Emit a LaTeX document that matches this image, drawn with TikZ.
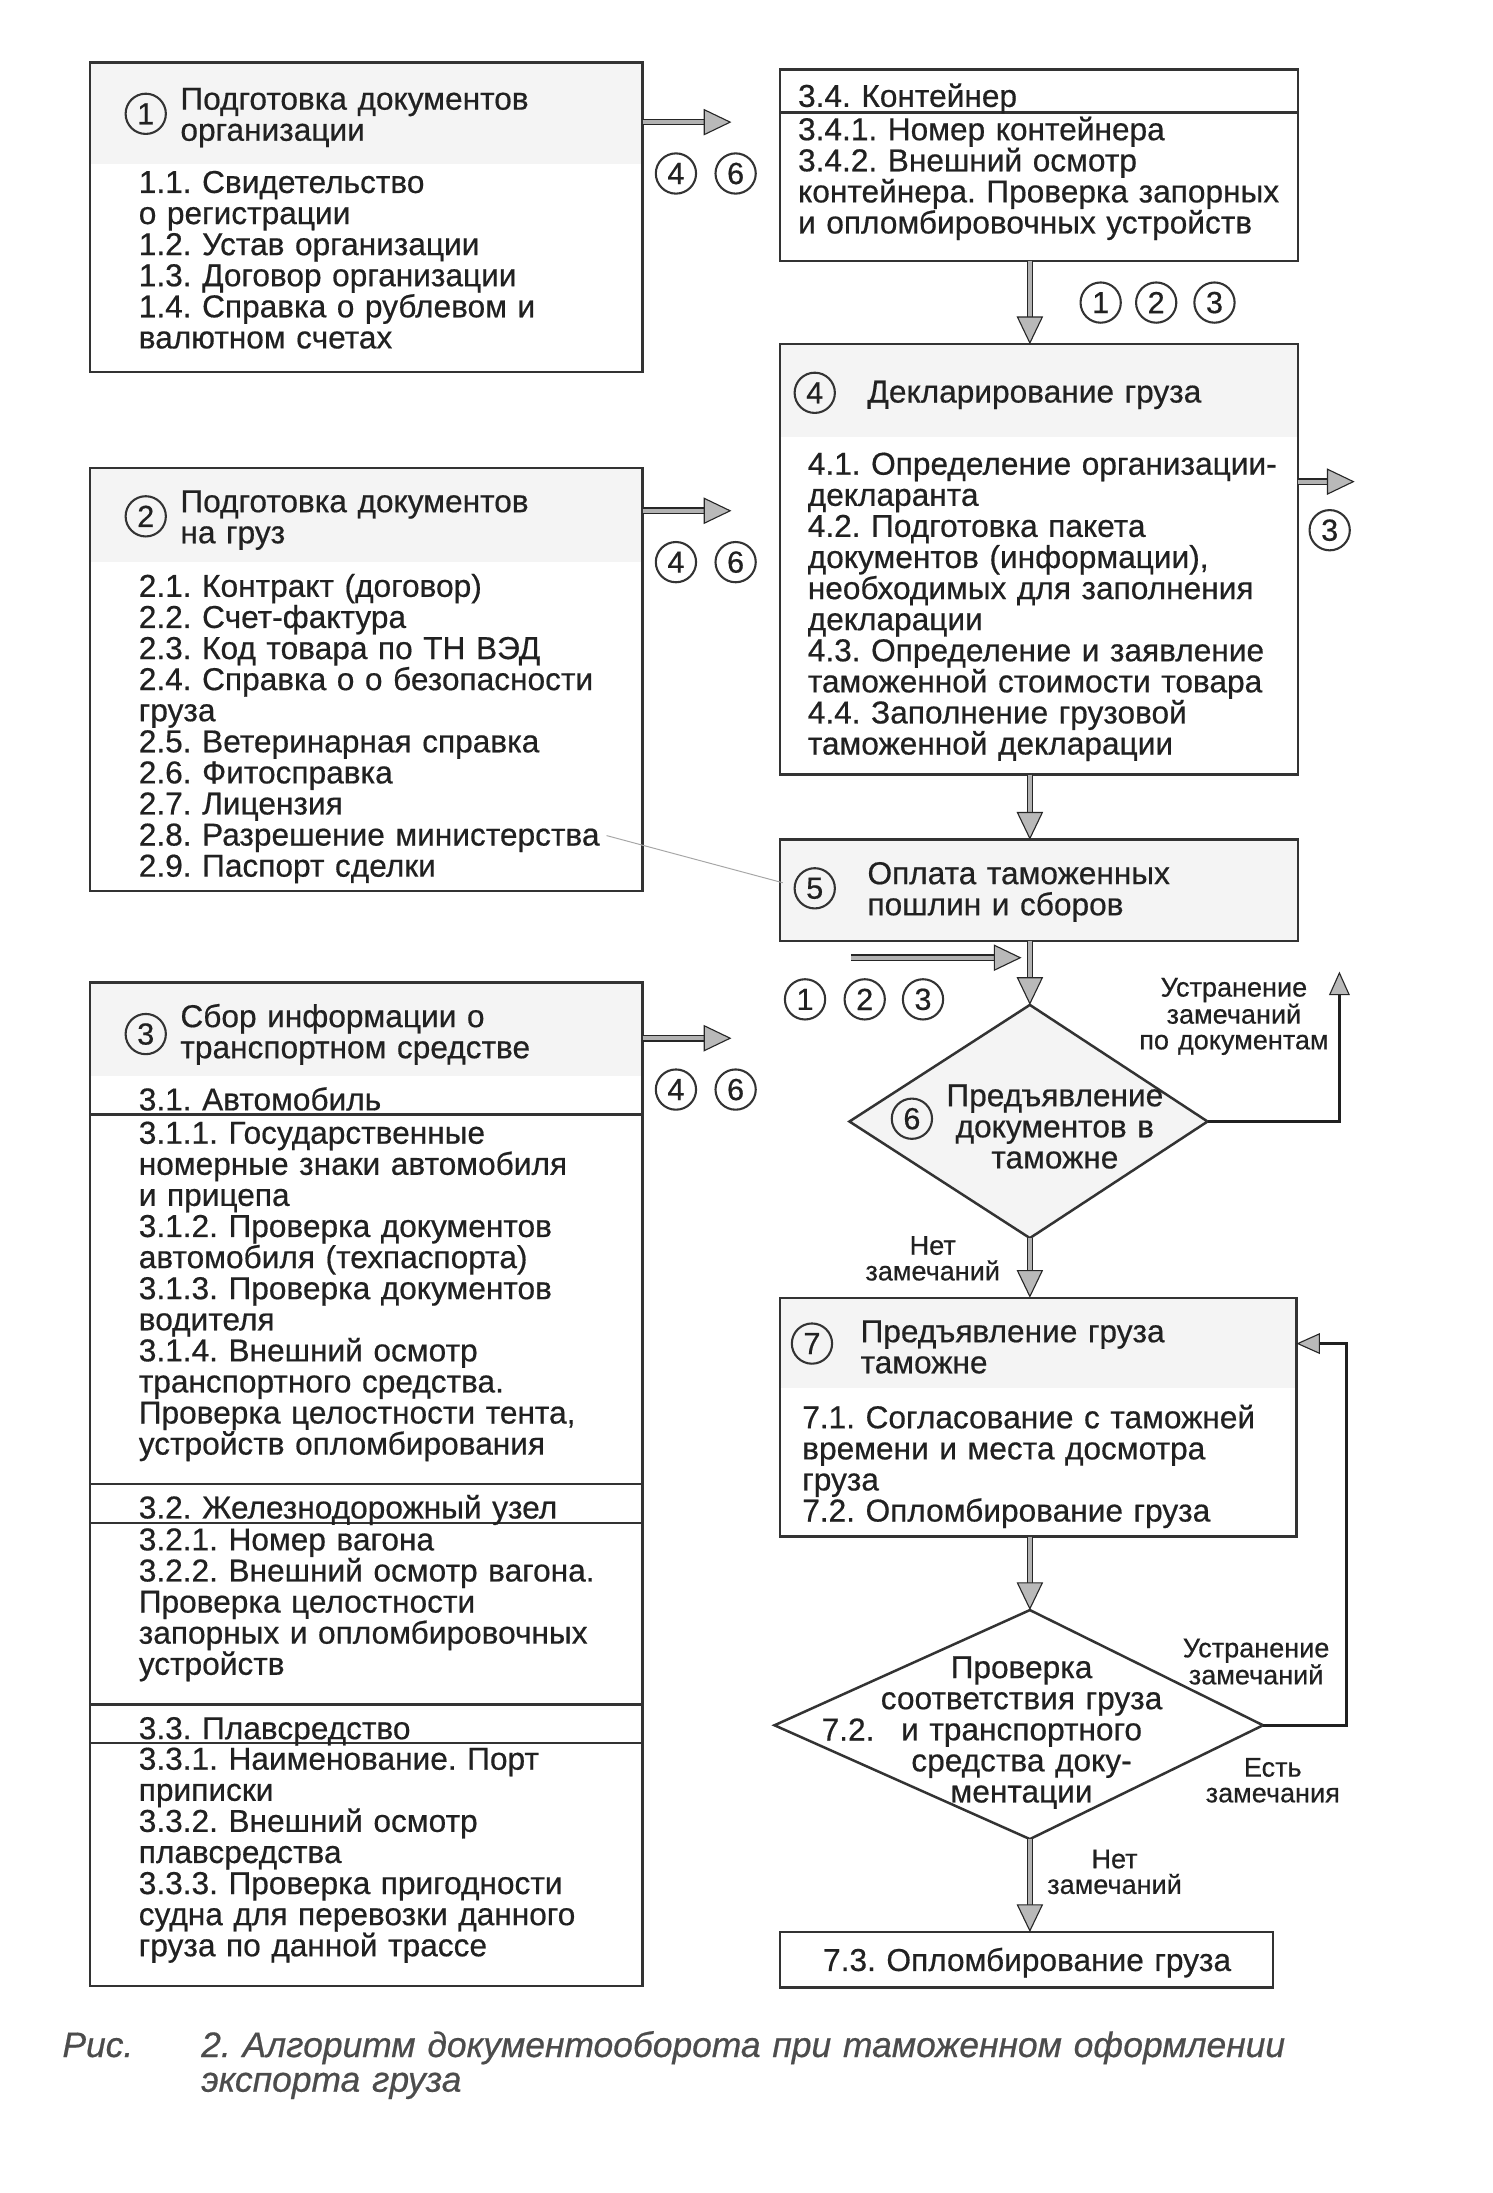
\documentclass[tikz,border=0pt]{standalone}
\usepackage{fontspec}
\setmainfont{Liberation Sans}[FakeBold=0.5]
\frenchspacing
\usetikzlibrary{arrows.meta}
\definecolor{ink}{gray}{0.13}
\definecolor{frame}{gray}{0.2}
\definecolor{hdrgray}{gray}{0.955}
\definecolor{capink}{gray}{0.3}
\begin{document}
\begin{tikzpicture}[x=1pt,y=-1pt,
  every node/.style={inner sep=0pt,outer sep=0pt,text=ink},
  box/.style={draw=frame,line width=1.8pt,inner sep=0pt,outer sep=0pt,anchor=north west},
  sepline/.style={draw=frame,line width=1.6pt},
  body/.style={font=\fontsize{22.8}{22.4}\selectfont,align=left,text width=#1,anchor=base west},
  body/.default=440pt,
  ctext/.style={font=\fontsize{22.8}{22.4}\selectfont,align=center,text width=#1,anchor=base},
  ctext/.default=240pt,
  lbl/.style={font=\fontsize{19.5}{18.5}\selectfont,align=center,text width=170pt,anchor=base},
  num/.style={circle,draw=frame,line width=1.5pt,minimum size=29pt,font=\fontsize{22}{22}\selectfont},
  garrow/.style={draw=gray!30!black,line width=1pt,double=gray!60,double distance=2.8pt,
     -{Triangle[length=20pt,width=19pt,line width=0.8pt,color=gray!30!black,fill=gray!55]}},
  fback/.style={draw=gray!25!black,line width=2.3pt,
     -{Triangle[length=17pt,width=15pt,line width=0.8pt,color=gray!30!black,fill=gray!55]}},
  capt/.style={font=\fontsize{25.5}{25}\selectfont\itshape,text=capink,align=left,text width=#1,anchor=base west},
  capt/.default=950pt,
]
\useasboundingbox (0,0) rectangle (1075,1580);
\fill[white] (0,0) rectangle (1075,1580);

% light header shading
\fill[hdrgray] (65,45) rectangle (463,118);
\fill[hdrgray] (65,337) rectangle (463,405);
\fill[hdrgray] (65,708) rectangle (463,775);
\fill[hdrgray] (562,248) rectangle (935,315);
\fill[hdrgray] (562,605) rectangle (935,678);
\fill[hdrgray] (562,935) rectangle (934,1000);

% ---------- boxes ----------
\node[box,minimum width=398pt,minimum height=223pt] (b1) at (65,45) {};
\node[box,minimum width=398pt,minimum height=305pt] (b2) at (65,337) {};
\node[box,minimum width=398pt,minimum height=723pt] (b3) at (65,708) {};
\node[box,minimum width=373pt,minimum height=138pt] (b34) at (562,50) {};
\node[box,minimum width=373pt,minimum height=310pt] (b4) at (562,248) {};
\node[box,minimum width=373pt,minimum height=73pt] (b5) at (562,605) {};
\node[box,minimum width=372pt,minimum height=172pt] (b7) at (562,935) {};
\node[box,minimum width=355pt,minimum height=40pt] (b73) at (562,1392) {};

% separators
\draw[sepline] (b34.west |- 0,81) -- (b34.east |- 0,81);
\draw[sepline] (b3.west |- 0,803) -- (b3.east |- 0,803);
\draw[sepline] (b3.west |- 0,1069) -- (b3.east |- 0,1069);
\draw[sepline] (b3.west |- 0,1097) -- (b3.east |- 0,1097);
\draw[sepline] (b3.west |- 0,1228) -- (b3.east |- 0,1228);
\draw[sepline] (b3.west |- 0,1256) -- (b3.east |- 0,1256);

% diamonds
\coordinate (d6t) at (742,724);
\coordinate (d6r) at (870,808);
\coordinate (d6b) at (742,892);
\coordinate (d6l) at (612,808);
\draw[box,fill=hdrgray] (d6t) -- (d6r) -- (d6b) -- (d6l) -- cycle;
\coordinate (d72t) at (742,1160);
\coordinate (d72r) at (910,1243);
\coordinate (d72b) at (742,1325);
\coordinate (d72l) at (558,1243);
\draw[box] (d72t) -- (d72r) -- (d72b) -- (d72l) -- cycle;

% ---------- box 1 ----------
\node[num] (c1) at (105,82) {1};
\node[body] (t1h) at (130,79) {Подготовка документов\\организации};
\node[body] (t1) at (100,139) {1.1. Свидетельство\\о регистрации\\1.2. Устав организации\\1.3. Договор организации\\1.4. Справка о рублевом и\\валютном счетах};

% ---------- box 2 ----------
\node[num] (c2) at (105,372) {2};
\node[body] (t2h) at (130,369) {Подготовка документов\\на груз};
\node[body] (t2) at (100,430) {2.1. Контракт (договор)\\2.2. Счет-фактура\\2.3. Код товара по ТН ВЭД\\2.4. Справка о о безопасности\\груза\\2.5. Ветеринарная справка\\2.6. Фитосправка\\2.7. Лицензия\\2.8. Разрешение министерства\\2.9. Паспорт сделки};

% ---------- box 3 ----------
\node[num] (c3) at (105,745) {3};
\node[body] (t3h) at (130,740) {Сбор информации о\\транспортном средстве};
\node[body] (t31h) at (100,800) {3.1. Автомобиль};
\node[body] (t31) at (100,824) {3.1.1. Государственные\\номерные знаки автомобиля\\и прицепа\\3.1.2. Проверка документов\\автомобиля (техпаспорта)\\3.1.3. Проверка документов\\водителя\\3.1.4. Внешний осмотр\\транспортного средства.\\Проверка целостности тента,\\устройств опломбирования};
\node[body] (t32h) at (100,1094) {3.2. Железнодорожный узел};
\node[body] (t32) at (100,1117) {3.2.1. Номер вагона\\3.2.2. Внешний осмотр вагона.\\Проверка целостности\\запорных и опломбировочных\\устройств};
\node[body] (t33h) at (100,1253) {3.3. Плавсредство};
\node[body] (t33) at (100,1275) {3.3.1. Наименование. Порт\\приписки\\3.3.2. Внешний осмотр\\плавсредства\\3.3.3. Проверка пригодности\\судна для перевозки данного\\груза по данной трассе};

% ---------- box 3.4 ----------
\node[body] (t34h) at (575,77) {3.4. Контейнер};
\node[body] (t34) at (575,101) {3.4.1. Номер контейнера\\3.4.2. Внешний осмотр\\контейнера. Проверка запорных\\и опломбировочных устройств};

% ---------- box 4 ----------
\node[num] (c4) at (587,283) {4};
\node[body] (t4h) at (625,290) {Декларирование груза};
\node[body] (t4) at (582,342) {4.1. Определение организации-\\декларанта\\4.2. Подготовка пакета\\документов (информации),\\необходимых для заполнения\\декларации\\4.3. Определение и заявление\\таможенной стоимости товара\\4.4. Заполнение грузовой\\таможенной декларации};

% ---------- box 5 ----------
\node[num] (c5) at (587,640) {5};
\node[body] (t5) at (625,637) {Оплата таможенных\\пошлин и сборов};

% ---------- diamond 6 ----------
\node[num] (c6) at (657,806) {6};
\node[ctext] (t6) at (760,797) {Предъявление\\документов в\\таможне};

% ---------- box 7 ----------
\node[num] (c7) at (585,968) {7};
\node[body] (t7h) at (620,967) {Предъявление груза\\таможне};
\node[body] (t7) at (578,1029) {7.1. Согласование с таможней\\времени и места досмотра\\груза\\7.2. Опломбирование груза};

% ---------- diamond 7.2 ----------
\node[ctext] (t72) at (736,1209) {Проверка\\соответствия груза\\и транспортного\\средства доку-\\ментации};
\node[ctext=60pt] (n72) at (611,1254) {7.2.};

% ---------- box 7.3 ----------
\node[ctext=340pt] (t73) at (740,1420) {7.3. Опломбирование груза};

% ---------- reference circles ----------
\node[num] (r1a) at (487,125) {4};
\node[num] (r1b) at (530,125) {6};
\node[num] (r2a) at (487,405) {4};
\node[num] (r2b) at (530,405) {6};
\node[num] (r3a) at (487,785) {4};
\node[num] (r3b) at (530,785) {6};
\node[num] (r4a) at (793,218) {1};
\node[num] (r4b) at (833,218) {2};
\node[num] (r4c) at (875,218) {3};
\node[num] (r5a) at (958,382) {3};
\node[num] (r6a) at (580,720) {1};
\node[num] (r6b) at (623,720) {2};
\node[num] (r6c) at (665,720) {3};

% ---------- labels ----------
\node[lbl] (l1) at (889,718) {Устранение\\замечаний\\по документам};
\node[lbl] (l2) at (672,904) {Нет\\замечаний};
\node[lbl] (l3) at (905,1194) {Устранение\\замечаний};
\node[lbl] (l4) at (917,1280) {Есть\\замечания};
\node[lbl] (l5) at (803,1346) {Нет\\замечаний};

% ---------- connectors ----------
\coordinate (e1) at (527,88);
\coordinate (e2) at (527,368);
\coordinate (e3) at (527,748);
\coordinate (e4) at (976,347);
\draw[garrow] (b1.east |- e1) -- (e1);
\draw[garrow] (b2.east |- e2) -- (e2);
\draw[garrow] (b3.east |- e3) -- (e3);
\draw[garrow] (b4.east |- e4) -- (e4);
\draw[garrow] (d6t |- b34.south) -- (d6t |- b4.north);
\draw[garrow] (d6t |- b4.south) -- (d6t |- b5.north);
\draw[garrow] (d6t |- b5.south) -- (d6t);
\coordinate (in123) at (613,690);
\coordinate (in123e) at (736,690);
\draw[garrow] (in123) -- (in123e);
\coordinate (fb1) at (965,700);
\draw[fback] (d6r) -- (fb1 |- d6r) -- (fb1);
\draw[garrow] (d6b) -- (d6b |- b7.north);
\draw[garrow] (d72t |- b7.south) -- (d72t);
\coordinate (fb2) at (970,968);
\draw[fback] (d72r) -- (fb2 |- d72r) -- (fb2) -- (b7.east |- fb2);
\draw[garrow] (d72b) -- (d72b |- b73.north);

% thin stray line
\coordinate (m28) at (437,602);
\coordinate (m5) at (564,636);
\draw[gray!70,line width=0.7pt] (m28) -- (m5);

% ---------- caption ----------
\node[capt=80pt] (cap1) at (45,1482) {Рис.};
\node[capt] (cap2) at (145,1482) {2. Алгоритм документооборота при таможенном оформлении\\экспорта груза};
\end{tikzpicture}
\end{document}
